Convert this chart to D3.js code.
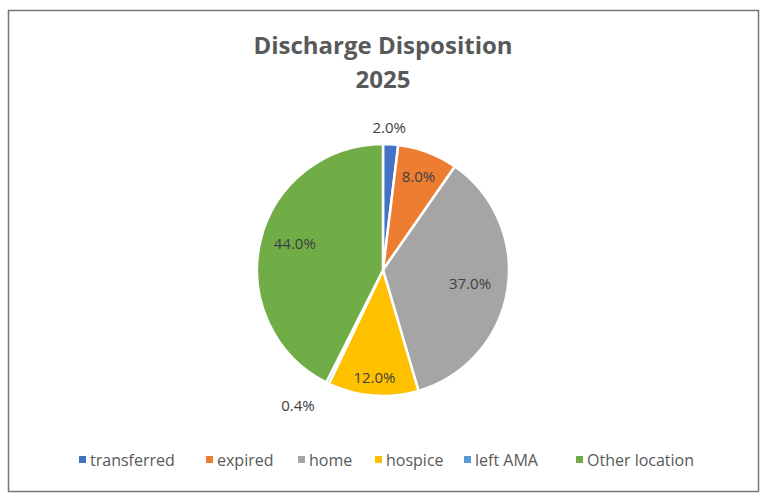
<!DOCTYPE html>
<html>
<head>
<meta charset="utf-8">
<title>Discharge Disposition 2025</title>
<script src="https://d3js.org/d3.v7.min.js"></script>
<style>
  body { margin: 0; background: #fff; }
  svg { display: block; }
</style>
</head>
<body>
<div id="chart"></div>
<script>
// data
var categories = ["transferred", "expired", "home", "hospice", "left AMA", "Other location"];
var values = [2.0, 8.0, 37.0, 12.0, 0.4, 44.0];
var colors = ["#4472C4", "#ED7D31", "#A5A5A5", "#FFC000", "#5B9BD5", "#70AD47"];

// where each data label sits, as a fraction of the pie radius
var labelRadius = {"transferred": 1.13, "expired": 0.79, "home": 0.70, "hospice": 0.86, "left AMA": 1.27, "Other location": 0.73};
var labelAngleShift = {"transferred": -1, "expired": 0, "home": 0, "hospice": 0, "left AMA": 6, "Other location": 3};

var width = 780, height = 503;
var cx = 383, cy = 270, r = 126;
var font = "'Open Sans', 'Liberation Sans', sans-serif";

var svg = d3.select("#chart")
  .append("svg")
    .attr("width", width)
    .attr("height", height);

// chart border
svg.append("rect")
  .attr("x", 8.5).attr("y", 10.5)
  .attr("width", 750).attr("height", 481)
  .attr("fill", "#fff")
  .attr("stroke", "#767676")
  .attr("stroke-width", 1.5);

// title
var title = svg.append("text")
  .attr("text-anchor", "middle")
  .attr("font-family", font)
  .attr("font-weight", "bold")
  .attr("font-size", "24px")
  .attr("fill", "#595959");
title.append("tspan").attr("x", cx).attr("y", 54).text("Discharge Disposition");
title.append("tspan").attr("x", cx).attr("y", 88).text("2025");

var data = categories.map(function(c, i) { return {name: c, value: values[i], color: colors[i]}; });

var pie = d3.pie().sort(null).value(function(d) { return d.value; });
var arc = d3.arc().innerRadius(0).outerRadius(r);
var arcs = pie(data);

var g = svg.append("g").attr("transform", "translate(" + cx + "," + cy + ")");

g.selectAll("path.slice")
  .data(arcs)
  .enter()
  .append("path")
    .attr("class", "slice")
    .attr("d", arc)
    .attr("fill", function(d) { return d.data.color; })
    .attr("stroke", "#fff")
    .attr("stroke-width", 2.5)
    .attr("stroke-linejoin", "round");

// data labels
g.selectAll("text.lbl")
  .data(arcs)
  .enter()
  .append("text")
    .attr("class", "lbl")
    .attr("text-anchor", "middle")
    .attr("dy", "0.35em")
    .attr("font-family", font)
    .attr("font-size", "15px")
    .attr("fill", "#404040")
    .attr("transform", function(d) {
      var a = (d.startAngle + d.endAngle) / 2 + labelAngleShift[d.data.name] * Math.PI / 180;
      var rr = r * labelRadius[d.data.name];
      return "translate(" + (rr * Math.sin(a)) + "," + (-rr * Math.cos(a)) + ")";
    })
    .text(function(d) { return d.data.value.toFixed(1) + "%"; });

// legend
var legendX = [79, 206, 298, 375, 464, 576];
var legend = svg.selectAll("g.legend")
  .data(data)
  .enter()
  .append("g")
    .attr("class", "legend")
    .attr("transform", function(d, i) { return "translate(" + legendX[i] + ",460)"; });

legend.append("rect")
  .attr("x", 0).attr("y", -4)
  .attr("width", 7).attr("height", 7)
  .attr("fill", function(d) { return d.color; });

legend.append("text")
  .attr("x", 11)
  .attr("dy", "0.35em")
  .attr("font-family", font)
  .attr("font-size", "16px")
  .attr("fill", "#595959")
  .text(function(d) { return d.name; });
</script>
</body>
</html>
